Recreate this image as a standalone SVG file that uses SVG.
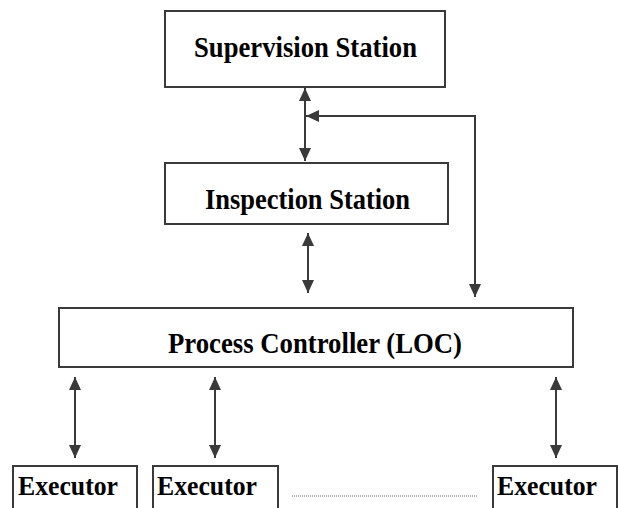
<svg xmlns="http://www.w3.org/2000/svg" width="618" height="508" viewBox="0 0 618 508">
  <style>
    .box { fill: #ffffff; stroke: #3a3a3a; stroke-width: 2; }
    .label { font-family: "Liberation Serif", "Times New Roman", serif; font-weight: bold; font-size: 29px; fill: #000000; }
    .exec { font-family: "Liberation Serif", "Times New Roman", serif; font-weight: bold; font-size: 28px; fill: #000000; }
    .link { fill: none; stroke: #3a3a3a; stroke-width: 2; }
    .dots { fill: none; stroke: #666666; stroke-width: 1; stroke-dasharray: 1 1; }
  </style>
  <defs>
    <marker id="head" viewBox="0 0 13 12" refX="13" refY="6" markerWidth="13" markerHeight="12" markerUnits="userSpaceOnUse" orient="auto-start-reverse">
      <path d="M0,0 L13,6 L0,12 z" fill="#3a3a3a"/>
    </marker>
  </defs>

  <rect width="618" height="508" fill="#ffffff"/>

  <g id="supervision-station">
    <rect class="box" x="165" y="11" width="280" height="76"/>
    <text class="label" x="194" y="57" textLength="223" lengthAdjust="spacingAndGlyphs">Supervision Station</text>
  </g>

  <g id="inspection-station">
    <rect class="box" x="165" y="163" width="283" height="61"/>
    <text class="label" x="205" y="209" textLength="205" lengthAdjust="spacingAndGlyphs">Inspection Station</text>
  </g>

  <g id="process-controller">
    <rect class="box" x="59" y="308" width="514" height="59"/>
    <text class="label" x="168" y="353" textLength="294" lengthAdjust="spacingAndGlyphs">Process Controller (LOC)</text>
  </g>

  <g id="executor-1">
    <rect class="box" x="13" y="466" width="124" height="50"/>
    <text class="exec" x="18" y="495" textLength="100" lengthAdjust="spacingAndGlyphs">Executor</text>
  </g>

  <g id="executor-2">
    <rect class="box" x="153" y="466" width="125" height="50"/>
    <text class="exec" x="157" y="495" textLength="100" lengthAdjust="spacingAndGlyphs">Executor</text>
  </g>

  <g id="executor-n">
    <rect class="box" x="493" y="466" width="124" height="50"/>
    <text class="exec" x="497" y="495" textLength="100" lengthAdjust="spacingAndGlyphs">Executor</text>
  </g>

  <g id="connectors">
    <!-- supervision <-> inspection -->
    <line class="link" x1="305" y1="88" x2="305" y2="161" marker-start="url(#head)" marker-end="url(#head)"/>
    <!-- process controller feedback into the supervision link -->
    <polyline class="link" points="306,116 475,116 475,297" marker-start="url(#head)" marker-end="url(#head)"/>
    <!-- inspection <-> process controller -->
    <line class="link" x1="308" y1="233" x2="308" y2="293" marker-start="url(#head)" marker-end="url(#head)"/>
    <!-- process controller <-> executors -->
    <line class="link" x1="75" y1="377" x2="75" y2="458" marker-start="url(#head)" marker-end="url(#head)"/>
    <line class="link" x1="215" y1="377" x2="215" y2="458" marker-start="url(#head)" marker-end="url(#head)"/>
    <line class="link" x1="556" y1="377" x2="556" y2="458" marker-start="url(#head)" marker-end="url(#head)"/>
    <!-- more executors elided -->
    <line class="dots" x1="292" y1="496" x2="478" y2="496"/>
  </g>
</svg>
